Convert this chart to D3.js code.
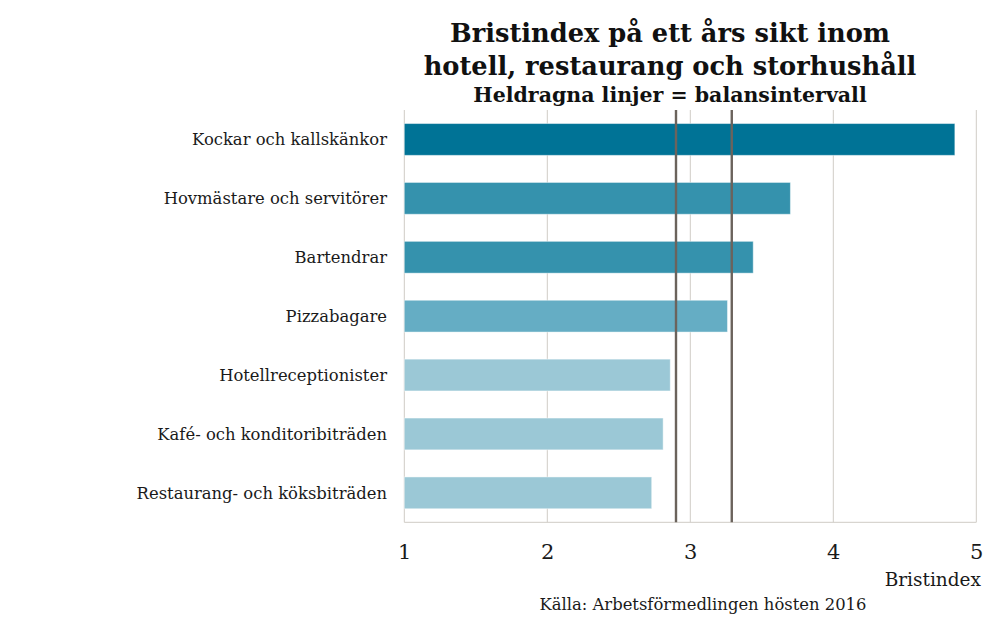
<!DOCTYPE html>
<html><head><meta charset="utf-8">
<script src="https://cdn.jsdelivr.net/npm/d3@7"></script>
<style>body{margin:0;background:#fff}svg{display:block}</style>
</head><body><svg id="c" width="1007" height="626"></svg>
<script>
const categories = ["Kockar och kallskänkor","Hovmästare och servitörer","Bartendrar","Pizzabagare","Hotellreceptionister","Kafé- och konditoribiträden","Restaurang- och köksbiträden"];
const values = [4.85, 3.70, 3.44, 3.26, 2.86, 2.81, 2.73];
const barColors = ["#007396","#3592ad","#3592ad","#65adc4","#9bc8d6","#9bc8d6","#9bc8d6"];
const balanceLines = [2.9, 3.29];
const ticks = [1,2,3,4,5];
const titleLines = ["Bristindex på ett års sikt inom","hotell, restaurang och storhushåll"];
const subtitle = "Heldragna linjer = balansintervall";
const axisTitle = "Bristindex";
const source = "Källa: Arbetsförmedlingen hösten 2016";

(function(){
const font = "Georgia, 'DejaVu Serif', serif";
const svg = d3.select("#c");
const pL = 404.3, pR = 976.3, pT = 110, pB = 522.3;
const x = d3.scaleLinear().domain([1,5]).range([pL,pR]);
const y = d3.scaleBand().domain(categories).range([pT,pB]).paddingInner(0.46).paddingOuter(0.23);

svg.append("g").selectAll("line").data(ticks.slice(1)).join("line")
  .attr("x1",d=>x(d)).attr("x2",d=>x(d)).attr("y1",pT).attr("y2",pB)
  .attr("stroke","#d0ccc6").attr("stroke-width",1);
svg.append("line").attr("x1",pL).attr("x2",pL).attr("y1",pT).attr("y2",pB).attr("stroke","#cfcbc5");
svg.append("line").attr("x1",pL).attr("x2",pR).attr("y1",pB).attr("y2",pB).attr("stroke","#cfcbc5");

svg.append("g").selectAll("rect").data(categories).join("rect")
  .attr("x",x(1)).attr("y",d=>y(d))
  .attr("width",(d,i)=>x(values[i])-x(1)).attr("height",y.bandwidth())
  .attr("fill",(d,i)=>barColors[i]).attr("stroke","rgba(255,255,255,0.45)").attr("stroke-width",1);

svg.append("g").selectAll("line").data(balanceLines).join("line")
  .attr("x1",d=>x(d)).attr("x2",d=>x(d)).attr("y1",pT).attr("y2",pB)
  .attr("stroke","#6b635c").attr("stroke-width",2.4);

svg.append("g").selectAll("text").data(categories).join("text")
  .attr("x",387).attr("y",d=>y(d)+y.bandwidth()/2).attr("dy","0.35em")
  .attr("text-anchor","end").attr("font-family",font).attr("font-size",16.4).attr("fill","#1a1a1a")
  .text(d=>d);

const xAxis = d3.axisBottom(x).tickValues(ticks).tickFormat(d3.format("d")).tickSize(0).tickPadding(0);
const ax = svg.append("g").attr("transform",`translate(0,${pB+37})`).call(xAxis);
ax.select(".domain").remove();
ax.selectAll("text").attr("font-family",font).attr("font-size",21).attr("fill","#1a1a1a").attr("dy","0");

svg.append("text").attr("x",981).attr("y",586).attr("text-anchor","end")
  .attr("font-family",font).attr("font-size",18.5).attr("fill","#1a1a1a").text(axisTitle);
svg.append("text").attr("x",703).attr("y",610).attr("text-anchor","middle")
  .attr("font-family",font).attr("font-size",16.4).attr("fill","#1a1a1a").text(source);

svg.append("g").selectAll("text").data(titleLines).join("text")
  .attr("x",670).attr("y",(d,i)=>42+i*33).attr("text-anchor","middle")
  .attr("font-family",font).attr("font-weight","bold").attr("font-size",25.7).attr("fill","#111").text(d=>d);
svg.append("text").attr("x",670).attr("y",102).attr("text-anchor","middle")
  .attr("font-family",font).attr("font-weight","bold").attr("font-size",20.5).attr("fill","#111").text(subtitle);
})();
</script></body></html>
